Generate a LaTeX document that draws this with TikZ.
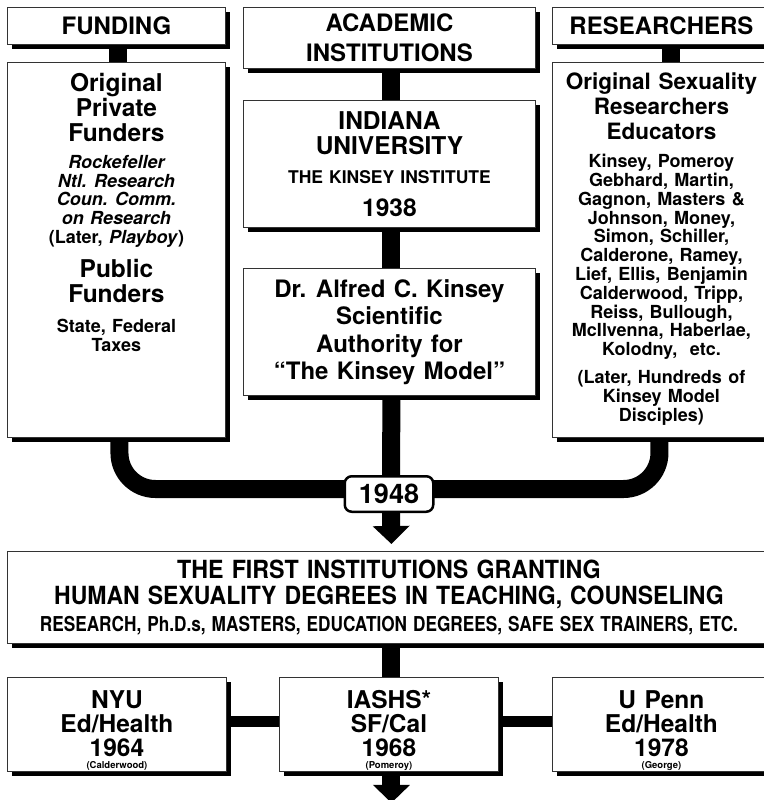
\documentclass[tikz,border=0pt]{standalone}
\usepackage{fontspec}
\setmainfont{TeX Gyre Heros}
\usepackage{graphicx}
\usetikzlibrary{arrows.meta,positioning,shadows,backgrounds}

\newcommand{\wsp}{\spaceskip=0.35em\relax\xspaceskip=0.4em\relax}
\newcommand{\hdfont}{\fontsize{24}{30}\selectfont\bfseries\wsp}
\newcommand{\bgfont}{\fontsize{24.5}{25}\selectfont\bfseries\wsp}
\newcommand{\rsfont}{\fontsize{22.5}{25}\selectfont\bfseries\wsp}
\newcommand{\krfont}{\fontsize{24}{27.5}\selectfont\bfseries\wsp}
\newcommand{\mdfont}{\fontsize{18}{18.8}\selectfont\bfseries\wsp}
\newcommand{\infont}{\fontsize{17.5}{18}\selectfont\bfseries\wsp}
\newcommand{\grfont}{\fontsize{25}{26}\selectfont\bfseries\wsp}
\newcommand{\gsfont}{\fontsize{20.5}{27}\selectfont\bfseries\wsp}
\newcommand{\unfont}{\fontsize{24.5}{24}\selectfont\bfseries\wsp}
\newcommand{\smfont}{\fontsize{9.5}{12}\selectfont\bfseries}

\begin{document}
\begin{tikzpicture}[
    x=1pt, y=1pt,
    box/.style={draw=black!80, line width=0.9pt, fill=white, anchor=north west, inner sep=0pt, align=center,
      general shadow={fill=black, shadow xshift=5pt, shadow yshift=-5pt}},
    coltxt/.style={anchor=north, inner sep=0pt, text width=212pt, align=center},
    bar/.style={draw=black, line width=18pt},
    thinbar/.style={draw=black, line width=11pt},
    yearbox/.style={draw=black, line width=2.5pt, fill=white, rounded corners=7pt, minimum width=88.5pt,
      minimum height=35.5pt, inner sep=0pt, font=\fontsize{27}{27}\selectfont\bfseries},
    arr/.style={-{Triangle[width=36pt,length=18pt]}},
  ]
  \useasboundingbox (0,0) rectangle (763,-800);

  % top row
  \node[box, minimum width=218, minimum height=37, font=\hdfont] (fund) at (7,-7) {FUNDING};
  \node[box, minimum width=292, minimum height=61, font=\hdfont] (acad) at (243,-7) {ACADEMIC\\INSTITUTIONS};
  \node[box, minimum width=218, minimum height=37, font=\hdfont] (resr) at (552,-7) {RESEARCHERS};

  % columns
  \node[box, minimum width=218, minimum height=375] (lcol) at (7,-62) {};
  \node[box, minimum width=218, minimum height=375] (rcol) at (552,-62) {};
  \node[box, minimum width=292, minimum height=127, text width=280pt] (indu) at (243,-100) {%
    {\bgfont INDIANA\\UNIVERSITY\par}\vspace{11pt}%
    {\infont THE KINSEY INSTITUTE\par}\vspace{8pt}%
    {\bgfont 1938\par}};
  \node[box, minimum width=292, minimum height=127, font=\krfont] (kins) at (243,-268)
    {Dr. Alfred C. Kinsey\\Scientific\\Authority for\\``The Kinsey Model''};

  \node[coltxt] (ltxt) at ([yshift=-11pt]lcol.north) {%
    {\bgfont Original\\Private\\Funders\par}\vspace{8pt}%
    {\mdfont\itshape Rockefeller\\Ntl. Research\\Coun. Comm.\\on Research\\\upshape(Later, \textit{Playboy})\par}\vspace{9pt}%
    {\bgfont Public\\Funders\par}\vspace{11pt}%
    {\mdfont State, Federal\\Taxes\par}};
  \node[coltxt] (rtxt) at ([yshift=-11pt]rcol.north) {%
    {\rsfont Original Sexuality\\Researchers\\Educators\par}\vspace{9pt}%
    {\mdfont Kinsey, Pomeroy\\Gebhard, Martin,\\Gagnon, Masters \&\\Johnson, Money,\\Simon, Schiller,\\Calderone, Ramey,\\
      Lief, Ellis, Benjamin\\Calderwood, Tripp,\\Reiss, Bullough,\\McIlvenna, Haberlae,\\Kolodny,~ etc.\par}\vspace{9pt}%
    {\mdfont (Later, Hundreds of\\Kinsey Model\\Disciples)\par}};

  \node[yearbox] (yr) at (389,-494) {1948};

  % degrees
  \node[box, minimum width=763, minimum height=92, text width=755pt] (grant) at (7,-551) {%
    {\grfont \scalebox{0.93}[1]{THE FIRST INSTITUTIONS GRANTING}\\
      \scalebox{0.92}[1]{HUMAN SEXUALITY DEGREES IN TEACHING, COUNSELING}\par}%
    {\gsfont \scalebox{0.84}[1]{RESEARCH, Ph.D.s, MASTERS, EDUCATION DEGREES, SAFE SEX TRAINERS, ETC.}\par}};

  \node[box, minimum width=219, minimum height=94] (nyu) at (7,-677) {};
  \node[box, minimum width=219, minimum height=94] (iash) at (279,-677) {};
  \node[box, minimum width=218, minimum height=94] (penn) at (552,-677) {};
  \node[coltxt] (nyut) at ([yshift=-13pt]nyu.north) {%
    {\unfont NYU\\Ed/Health\\1964\par}{\smfont (Calderwood)\par}};
  \node[coltxt] (iasht) at ([yshift=-13pt]iash.north) {%
    {\unfont IASHS*\\SF/Cal\\1968\par}{\smfont (Pomeroy)\par}};
  \node[coltxt] (pennt) at ([yshift=-13pt]penn.north) {%
    {\unfont U Penn\\Ed/Health\\1978\par}{\smfont (George)\par}};
  \coordinate (out) at ([xshift=2.5pt,yshift=-31pt]iash.south);

  % connectors
  \begin{scope}[on background layer]
    \draw[bar] ([xshift=1.5pt]fund.south) -- ([xshift=1.5pt]lcol.north);
    \draw[bar] ([xshift=2pt]acad.south) -- ([xshift=2pt]indu.north);
    \draw[bar] ([xshift=2pt]indu.south) -- ([xshift=2pt]kins.north);
    \draw[bar] ([xshift=2pt]kins.south) -- ([xshift=2pt]yr.north);
    \draw[bar] ([xshift=10pt]resr.south) -- ([xshift=10pt]rcol.north);
    \draw[bar, rounded corners=36pt] ([xshift=3pt]lcol.south) |- ([yshift=5pt]yr.center) -| ([xshift=-2pt]rcol.south);
    \draw[bar, arr] ([xshift=2pt]yr.south) -- ([xshift=2.5pt,yshift=7pt]grant.north);
    \draw[bar] ([xshift=2.5pt]grant.south) -- ([xshift=2.5pt]iash.north);
    \draw[thinbar] ([yshift=3pt]nyu.east) -- ([yshift=3pt]iash.west);
    \draw[thinbar] ([yshift=3pt]iash.east) -- ([yshift=3pt]penn.west);
    \draw[bar, arr] ([xshift=2.5pt]iash.south) -- (out);
  \end{scope}
\end{tikzpicture}
\end{document}
